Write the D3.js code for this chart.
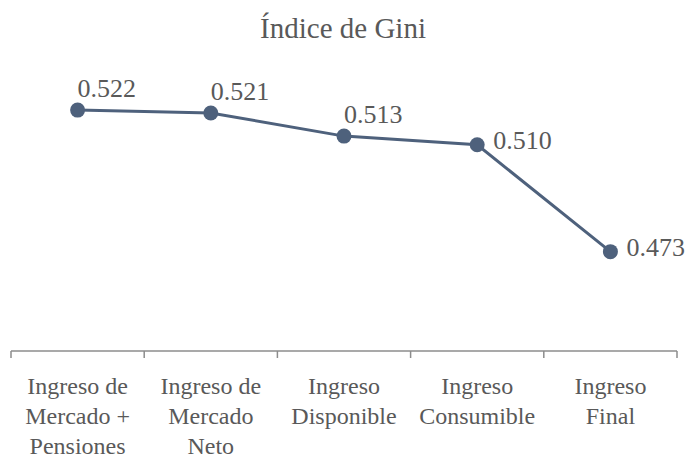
<!DOCTYPE html>
<html>
<head>
<meta charset="utf-8">
<script src="https://cdn.jsdelivr.net/npm/d3@7"></script>
<style>
  body { margin: 0; background: #fff; }
</style>
</head>
<body>
<div id="graph"></div>
<script>
var title = "Índice de Gini";
var categories = ["Ingreso de Mercado + Pensiones", "Ingreso de Mercado Neto", "Ingreso Disponible", "Ingreso Consumible", "Ingreso Final"];
var categoryLines = [
    ["Ingreso de", "Mercado +", "Pensiones"],
    ["Ingreso de", "Mercado", "Neto"],
    ["Ingreso", "Disponible"],
    ["Ingreso", "Consumible"],
    ["Ingreso", "Final"]
];
var gini = [0.522, 0.521, 0.513, 0.510, 0.473];

window.onload = start;

function start() {
    var width = 689, height = 460;
    var lineColor = "#4e617c";
    var serif = "'Liberation Serif', 'DejaVu Serif', serif";

    var svg = d3.select("#graph")
        .append("svg")
        .attr("width", width)
        .attr("height", height)
        .attr("font-family", serif)
        .style("font-family", serif);

    var xScale = d3.scaleBand().domain(categories).range([11, 677]);
    var yScale = d3.scaleLinear().domain([0.44, 0.53]).range([347, 87]);
    var axisY = 351;

    // title
    svg.append("text")
        .attr("x", 343)
        .attr("y", 38)
        .attr("fill", "#595959")
        .style("font-family", serif)
        .style("text-anchor", "middle")
        .style("font-size", "29px")
        .text(title);

    // x axis: line plus ticks at band edges
    var edges = categories.map(function (d) { return xScale(d); });
    edges.push(xScale.range()[1]);

    var axis = svg.append("g").attr("class", "xaxis");
    axis.append("line")
        .attr("x1", xScale.range()[0]).attr("x2", xScale.range()[1])
        .attr("y1", axisY).attr("y2", axisY)
        .attr("stroke", "#8c8c8c").attr("stroke-width", 1.5);
    axis.selectAll(".tick")
        .data(edges)
        .enter()
        .append("line")
        .attr("x1", function (d) { return d; })
        .attr("x2", function (d) { return d; })
        .attr("y1", axisY).attr("y2", axisY + 7)
        .attr("stroke", "#8c8c8c").attr("stroke-width", 1.5);

    // category labels, wrapped
    var labels = axis.selectAll(".cat")
        .data(categories)
        .enter()
        .append("text")
        .attr("class", "cat")
        .attr("fill", "#595959")
        .style("font-family", serif)
        .style("text-anchor", "middle")
        .style("font-size", "24px");
    labels.each(function (d, i) {
        var t = d3.select(this);
        categoryLines[i].forEach(function (ln, j) {
            t.append("tspan")
                .attr("x", xScale(d) + xScale.bandwidth() / 2)
                .attr("y", 394 + j * 30)
                .text(ln);
        });
    });

    var data = categories.map(function (c, i) { return { cat: c, v: gini[i] }; });
    var cx = function (d) { return xScale(d.cat) + xScale.bandwidth() / 2; };
    var cy = function (d) { return yScale(d.v); };

    svg.append("path")
        .datum(data)
        .attr("d", d3.line().x(cx).y(cy))
        .attr("stroke", lineColor)
        .attr("stroke-width", 3)
        .attr("fill", "none");

    svg.selectAll(".dot")
        .data(data)
        .enter()
        .append("circle")
        .attr("cx", cx)
        .attr("cy", cy)
        .attr("r", 7.5)
        .attr("fill", lineColor);

    // value labels: above for the first three, to the right for the rest
    svg.selectAll(".val")
        .data(data)
        .enter()
        .append("text")
        .attr("fill", "#595959")
        .style("font-family", serif)
        .attr("x", function (d, i) { return cx(d) + (i < 3 ? 0 : 16); })
        .attr("y", function (d, i) { return cy(d) + (i < 3 ? -13 : 4); })
        .style("font-size", "26px")
        .text(function (d) { return d.v.toFixed(3); });
}
</script>
</body>
</html>
